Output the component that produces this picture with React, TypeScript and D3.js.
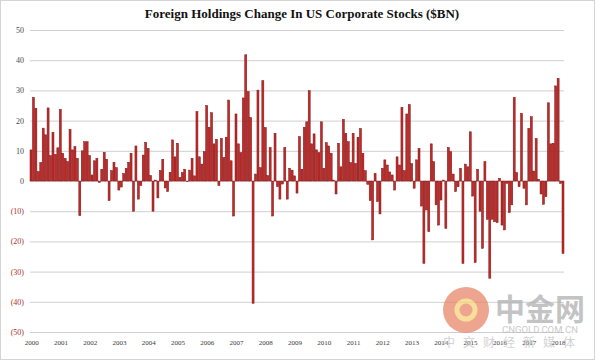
import React, { useEffect, useRef } from 'react';
import * as d3 from 'd3';

const WIDTH = 600;
const HEIGHT = 361;

const TITLE = 'Foreign Holdings Change In US Corporate Stocks ($BN)';
const START_YEAR = 2000;
const YEAR_LABELS = d3.range(2000, 2019).map(String);
const Y_TICKS = [-50, -40, -30, -20, -10, 0, 10, 20, 30, 40, 50];

// monthly values, $BN (Jan 2000 .. Mar 2018)
const V2000 = [10.3, 27.7, 24.1, 3.1, 6.1, 17.5, 15.3, 24.2, 8.4, 16.1, 8.8, 11];
const V2001 = [23.7, 9.2, 7.5, 6.4, 17.1, 10.3, 11.4, 7.5, -11.5, 10, 13, 13];
const V2002 = [8.4, 2, 6.7, 7.5, -0.5, 3.9, 9.5, 7.2, -6.5, 3.4, 6.2, 4.4];
const V2003 = [-3, -2, 2.5, 4.2, 6.2, 9.2, -10, 11.6, -6, -1.5, 8.6, 12.8];
const V2004 = [10.8, 1.8, -10, 0.3, -5.6, 3.5, 7.2, -2.3, -3.5, 2.9, 13.6, 8];
const V2005 = [12.5, 1.2, 2.8, 3.9, -0.2, 3.6, 7.5, 1.7, 23, 8, 5.6, 9.7];
const V2006 = [25, 17.8, 22.6, 12.3, 13.8, -1.5, 14.1, 7.8, 14.5, 26.8, 6.7, -11.6];
const V2007 = [22.2, 12.3, 9.4, 27.5, 41.8, 29.6, 21, -40.5, 2.3, 30.1, 4.4, 33.2];
const V2008 = [17.7, 1.8, 11.1, -11.6, 15.8, -1.9, -6, -1, 11.1, -6, 4.2, 3.6];
const V2009 = [1.7, -4, 14.7, 3.9, 17.8, 19.6, 29.9, 12.3, 15.6, 10.3, 9.4, 19.6];
const V2010 = [4.2, 12.7, 11.6, 9.2, 0.3, -4.3, 12.5, 4.7, 20.4, 15.8, 13, 6.1];
const V2011 = [15.8, 5.8, 14.5, 17.4, 9.2, 3.4, -1.1, -6.5, -19.5, 2.5, -6.8, -10.9];
const V2012 = [4.2, 7, 5.3, 3, 2, -3, 8, 5.3, 24.4, 3.4, 22.2, 25.3];
const V2013 = [5.8, -2.4, 7, 10.8, -8.3, -27.3, -9.6, -16.8, 12.3, 6.4, -7.9, -14.6];
const V2014 = [-6.3, 0.3, -15.7, 11.1, 9.7, 2.3, -3.5, -1.9, 4.2, -27.3, 5.6, 4.7];
const V2015 = [16.3, -5, -27, 3.9, -10, -22.3, 6.4, -12.7, -32.2, -12.7, -13.5, -13.8];
const V2016 = [0.9, -14.6, -16.2, -0.8, -10.5, -7.9, 27.7, 2.8, -1.9, 22.4, -2.4, -7.9];
const V2017 = [17.4, 21.3, 3.3, 14.1, 0.6, -4.3, -7.7, -5.2, 25.9, 12.3, 12.5, 31.5];
const V2018 = [34, -0.8, -24];

const VALUES = [
  ...V2000, ...V2001, ...V2002, ...V2003, ...V2004, ...V2005, ...V2006,
  ...V2007, ...V2008, ...V2009, ...V2010, ...V2011, ...V2012, ...V2013,
  ...V2014, ...V2015, ...V2016, ...V2017, ...V2018,
];

const fmt = (v: number) => (v < 0 ? `(${Math.abs(v)})` : `${v}`);

export default function App() {
  const svgRef = useRef<SVGSVGElement>(null);

  useEffect(() => {
    if (!svgRef.current) return;
    const svg = d3.select(svgRef.current);
    svg.selectAll('*').remove();

    const margin = { top: 30, right: 36, bottom: 29, left: 30 };
    const plotW = WIDTH - margin.left - margin.right;

    const x = d3.scaleBand<number>()
      .domain(d3.range(VALUES.length))
      .range([margin.left, margin.left + plotW])
      .paddingInner(0.18);

    const y = d3.scaleLinear()
      .domain([-50, 50])
      .range([HEIGHT - margin.bottom - 0, margin.top]);

    // frame
    svg.append('rect')
      .attr('x', 0.5).attr('y', 0.5)
      .attr('width', 594).attr('height', 359)
      .attr('fill', '#fff')
      .attr('stroke', '#d4d4d4');

    // gridlines + y labels
    const yAxis = d3.axisLeft(y)
      .tickValues(Y_TICKS)
      .tickFormat(d => fmt(d as number))
      .tickSizeInner(-plotW)
      .tickSizeOuter(0)
      .tickPadding(6);

    const gy = svg.append('g')
      .attr('transform', `translate(${margin.left},0)`)
      .call(yAxis);
    gy.select('.domain').remove();
    gy.selectAll('.tick line').attr('stroke', '#cfcfcf').attr('stroke-width', 1);
    gy.selectAll<SVGTextElement, number>('.tick text')
      .attr('font-family', '"Liberation Serif", "DejaVu Serif", serif')
      .attr('font-size', 8)
      .attr('fill', d => (d < 0 ? '#a8322d' : '#4a4a4a'));

    // bars
    svg.append('g')
      .selectAll('rect')
      .data(VALUES)
      .join('rect')
      .attr('x', (_, i) => x(i)!)
      .attr('width', x.bandwidth())
      .attr('y', d => y(Math.max(0, d)))
      .attr('height', d => Math.abs(y(d) - y(0)))
      .attr('fill', '#c12a29')
      .attr('stroke', '#7e1515')
      .attr('stroke-width', 0.5);

    // year labels
    const xYears = d3.scaleLinear()
      .domain([START_YEAR, START_YEAR + VALUES.length / 12])
      .range([margin.left, margin.left + plotW]);
    const step = plotW / VALUES.length;
    const xAxis = d3.axisBottom(xYears)
      .tickValues(YEAR_LABELS.map(Number))
      .tickFormat(d => String(d))
      .tickSize(0)
      .tickPadding(8);
    const gx = svg.append('g')
      .attr('transform', `translate(${step / 2},${y(-50)})`)
      .call(xAxis);
    gx.select('.domain').remove();
    gx.selectAll('.tick text')
      .attr('font-family', '"Liberation Serif", "DejaVu Serif", serif')
      .attr('font-size', 7)
      .attr('fill', '#3a3a3a');

    // title
    svg.append('text')
      .attr('x', 302)
      .attr('y', 18)
      .attr('text-anchor', 'middle')
      .attr('font-family', '"Liberation Serif", "DejaVu Serif", serif')
      .attr('font-weight', 'bold')
      .attr('font-size', 13)
      .attr('fill', '#111')
      .text(TITLE);

    // watermark
    const wm = svg.append('g').attr('opacity', 0.75);
    wm.append('circle').attr('cx', 466).attr('cy', 310).attr('r', 23).attr('fill', '#e8876a');
    wm.append('circle').attr('cx', 466).attr('cy', 310).attr('r', 9).attr('fill', 'none')
      .attr('stroke', '#f6d37a').attr('stroke-width', 5);
    wm.append('text')
      .attr('x', 540).attr('y', 320)
      .attr('text-anchor', 'middle')
      .attr('font-family', '"Noto Sans CJK SC", sans-serif')
      .attr('font-size', 30)
      .attr('font-weight', 'bold')
      .attr('fill', '#b0b0b0')
      .text('中金网');
    wm.append('text')
      .attr('x', 540).attr('y', 333)
      .attr('text-anchor', 'middle')
      .attr('font-family', 'Roboto, sans-serif')
      .attr('font-size', 9.5)
      .attr('fill', '#b8b8b8')
      .text('CNGOLD.COM.CN');
    wm.append('text')
      .attr('x', 513).attr('y', 347)
      .attr('text-anchor', 'middle')
      .attr('font-family', '"Noto Sans CJK SC", sans-serif')
      .attr('font-size', 12)
      .attr('fill', '#c4c4c4')
      .attr('letter-spacing', 8)
      .text('中文财经新媒体');
  }, []);

  return (
    <svg
      ref={svgRef}
      width={WIDTH}
      height={HEIGHT}
      style={{ position: 'absolute', left: 0, top: 0, background: '#fff' }}
    />
  );
}
